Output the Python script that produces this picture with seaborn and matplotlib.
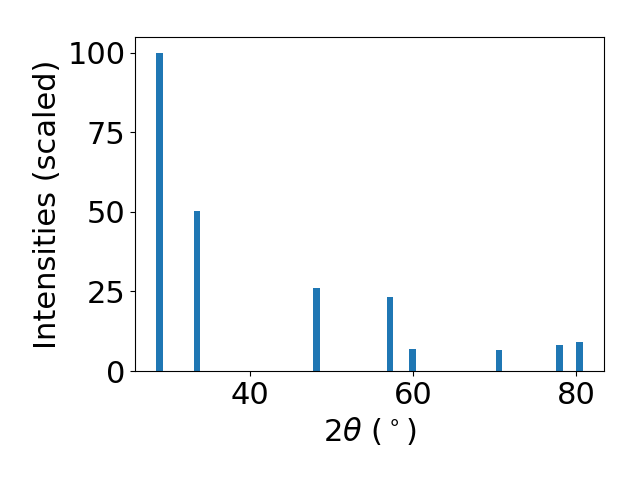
import matplotlib
matplotlib.use("Agg")
import matplotlib.pyplot as plt
import seaborn as sns
import numpy as np
import pandas as pd

two_theta = [28.93, 33.53, 48.17, 57.18, 59.96, 70.52, 77.98, 80.41]
intensities = [100.0, 50.3, 26.1, 23.3, 6.9, 6.6, 8.2, 9.1]

sns.set_theme(style="ticks", rc={"axes.grid": False})
plt.rcParams['font.family'] = ['DejaVu Sans']
plt.rcParams.update({"text.color": "black", "axes.labelcolor": "black",
                     "xtick.color": "black", "ytick.color": "black",
                     "axes.edgecolor": "black"})

df = pd.DataFrame({"two_theta": two_theta, "intensity": intensities})
fig, ax = plt.subplots(figsize=(6.4, 4.8), dpi=100)
min_gap = np.min(np.diff(sorted(two_theta)))
sns.barplot(data=df, x="two_theta", y="intensity", native_scale=True,
            width=0.8 / min_gap, color="#1f77b4", saturation=1, ax=ax,
            errorbar=None, linewidth=0)
ax.margins(x=0.05)
ax.set_xlabel(r"$2\theta$ ($^\circ$)", fontsize=22)
ax.set_ylabel("Intensities (scaled)", fontsize=22)
ax.tick_params(labelsize=22, direction="out", length=3.5, width=0.8)
ax.set_xticks([40, 60, 80])
ax.set_yticks([0, 25, 50, 75, 100])
for s in ax.spines.values():
    s.set_visible(True)
    s.set_linewidth(0.8)
ax.set_facecolor("white")
fig.subplots_adjust(left=0.211, right=0.944, top=0.923, bottom=0.227)
fig.savefig("out.png", dpi=100)
